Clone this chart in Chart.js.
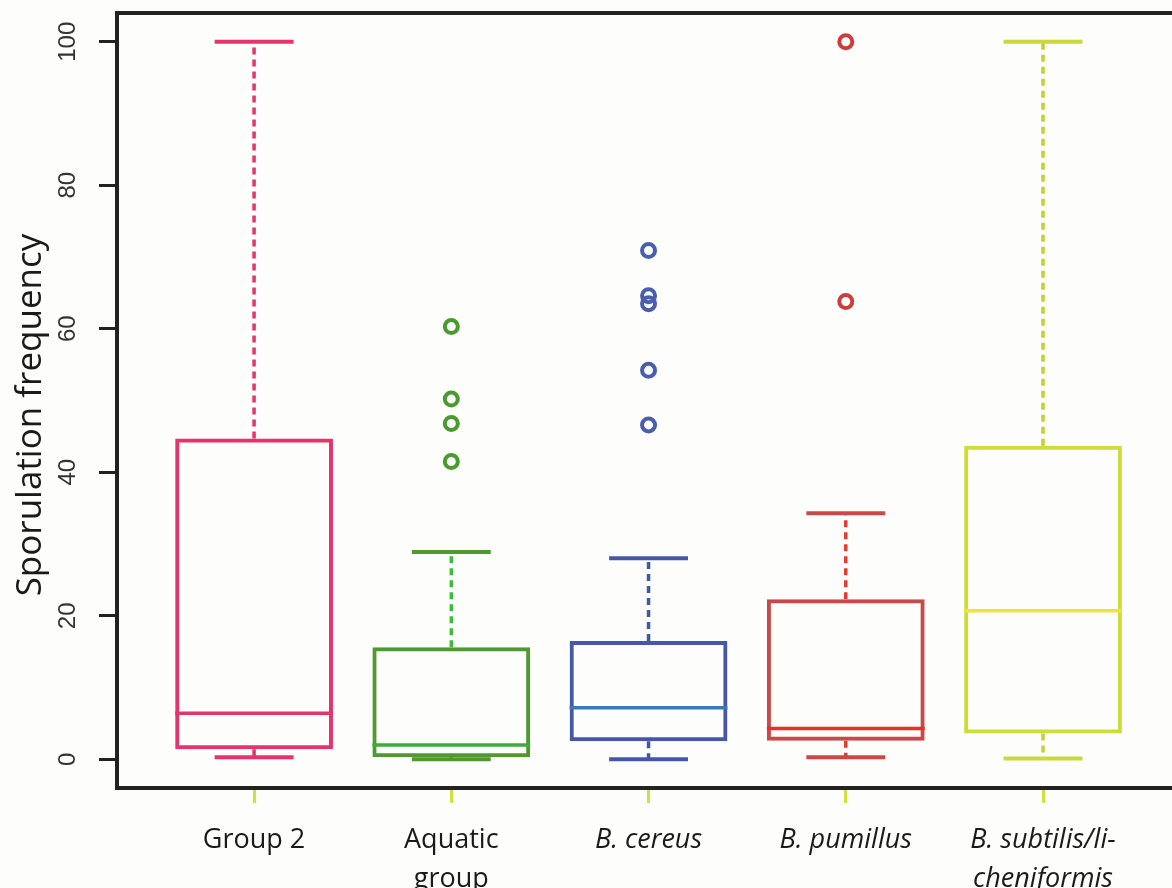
<!DOCTYPE html>
<html>
<head>
<meta charset="utf-8">
<script src="https://cdn.jsdelivr.net/npm/chart.js@4.4.1/dist/chart.umd.min.js"></script>
<style>
    html, body { margin: 0; padding: 0; background: #fdfdfb; }
    #wrap { width: 1172px; height: 888px; position: relative; }
</style>
</head>
<body>
<div id="wrap"><canvas id="chart"></canvas></div>
<script>
// --- Data ---
const categories = ['Group 2', ['Aquatic', 'group'], 'B. cereus', 'B. pumillus', ['B. subtilis/li-', 'cheniformis']];
const italicLabels = [false, false, true, true, true];
const whiskerLow = [0.3, 0, 0, 0.3, 0.1];
const q1 = [1.4, 0.3, 2.5, 2.6, 3.6];
const medians = [6.4, 2.0, 7.2, 4.3, 20.7];
const q3 = [44.7, 15.6, 16.5, 22.3, 43.7];
const whiskerHigh = [100, 28.9, 28.0, 34.3, 100];
const outliers = [[], [41.5, 46.8, 50.2, 60.3], [46.6, 54.2, 63.5, 64.6, 70.9], [63.8, 100], []];
const yTicks = [0, 20, 40, 60, 80, 100];
const yTitle = 'Sporulation frequency';

// --- Colours ---
const boxColors = ['#e6336c', '#4f9a2f', '#4657a7', '#c9494a', '#cddc3a'];
const medianColors = ['#e6336c', '#3aae3a', '#3b78b5', '#e8302a', '#f3e23a'];
const whiskerColors = ['#e6336c', '#3dbb3d', '#3f5aa0', '#e53b2e', '#c4cf30'];
const capColors = ['#e6336c', '#4f9a2f', '#4657a7', '#c94848', '#cbd93a'];
const outlierColors = ['#e6336c', '#4b9a30', '#4a5eb0', '#cc3d3d', '#cbd93a'];

// --- Build datasets from the arrays ---
const boxData = categories.map((c, i) => ({ x: i + 1, y: [q1[i], q3[i]] }));

const whiskerData = [];
const capData = [];
const medianData = [];
categories.forEach((c, i) => {
    const x = i + 1;
    whiskerData.push({ x, y: q3[i] }, { x, y: whiskerHigh[i] }, { x, y: null },
                     { x, y: q1[i] }, { x, y: whiskerLow[i] }, { x, y: null });
    capData.push({ x: x - 0.2, y: whiskerHigh[i] }, { x: x + 0.2, y: whiskerHigh[i] }, { x, y: null },
                 { x: x - 0.2, y: whiskerLow[i] }, { x: x + 0.2, y: whiskerLow[i] }, { x, y: null });
    medianData.push({ x: x - 0.4, y: medians[i] }, { x: x + 0.4, y: medians[i] }, { x, y: null });
});

const outlierData = [];
const outlierPointColors = [];
outliers.forEach((vals, i) => {
    vals.forEach(v => {
        outlierData.push({ x: i + 1, y: v });
        outlierPointColors.push(outlierColors[i]);
    });
});

// rotated y-axis title, placed beside the axis
const yTitlePlugin = {
    id: 'yTitle',
    afterDraw(chart) {
        const ctx = chart.ctx;
        ctx.save();
        ctx.translate(31, 415);
        ctx.rotate(-Math.PI / 2);
        ctx.font = '35px "Open Sans"';
        ctx.fillStyle = '#1a1a1a';
        ctx.textAlign = 'center';
        ctx.textBaseline = 'middle';
        ctx.fillText(yTitle, 0, 0);
        ctx.restore();
    }
};

new Chart(document.getElementById('chart'), {
    type: 'bar',
    data: {
        datasets: [
            {
                type: 'bar',
                data: boxData,
                backgroundColor: 'rgba(0,0,0,0)',
                borderColor: boxColors,
                borderWidth: 4,
                borderSkipped: false,
                categoryPercentage: 0.8,
                barPercentage: 1,
                order: 3
            },
            {
                type: 'line',
                data: whiskerData,
                borderWidth: 3.5,
                borderDash: [7, 5],
                pointRadius: 0,
                spanGaps: false,
                segment: { borderColor: ctx => whiskerColors[Math.floor(ctx.p0DataIndex / 6)] },
                order: 4
            },
            {
                type: 'line',
                data: capData,
                borderWidth: 4,
                pointRadius: 0,
                spanGaps: false,
                segment: { borderColor: ctx => capColors[Math.floor(ctx.p0DataIndex / 6)] },
                order: 2
            },
            {
                type: 'line',
                data: medianData,
                borderWidth: 3.5,
                pointRadius: 0,
                spanGaps: false,
                segment: { borderColor: ctx => medianColors[Math.floor(ctx.p0DataIndex / 3)] },
                order: 1
            },
            {
                type: 'scatter',
                data: outlierData,
                pointRadius: 6.5,
                pointBorderWidth: 4,
                pointBackgroundColor: 'rgba(0,0,0,0)',
                pointBorderColor: outlierPointColors,
                order: 0
            }
        ]
    },
    options: {
        responsive: true,
        maintainAspectRatio: false,
        animation: false,
        layout: { padding: 0, autoPadding: false },
        plugins: {
            legend: { display: false },
            tooltip: { enabled: false }
        },
        scales: {
            x: {
                type: 'linear',
                position: 'bottom',
                offset: false,
                min: 0.305,
                max: 5.654,
                afterBuildTicks: scale => { scale.ticks = categories.map((c, i) => ({ value: i + 1 })); },
                afterFit: scale => { scale.height = 100; },
                border: { color: '#222', width: 4 },
                grid: {
                    offset: false,
                    drawOnChartArea: false,
                    drawTicks: true,
                    tickLength: 15,
                    tickColor: '#d2e03a',
                    tickWidth: 3
                },
                ticks: {
                    autoSkip: false,
                    maxRotation: 0,
                    padding: 18,
                    color: '#1a1a1a',
                    font: ctx => ({
                        family: '"Open Sans"',
                        size: 27,
                        lineHeight: 1.45,
                        style: italicLabels[ctx.index] ? 'italic' : 'normal'
                    }),
                    callback: value => categories[value - 1]
                }
            },
            xTop: {
                type: 'linear',
                position: 'top',
                offset: false,
                min: 0.305,
                max: 5.654,
                afterFit: scale => { scale.height = 13; },
                border: { color: '#222', width: 4 },
                grid: { display: false },
                ticks: { display: false }
            },
            y: {
                min: -4,
                max: 104,
                afterBuildTicks: scale => { scale.ticks = yTicks.map(v => ({ value: v })); },
                afterFit: scale => {
                    scale.width = 117;
                    // rotated labels do not need the default vertical label padding
                    scale.paddingTop = 0;
                    scale.paddingBottom = 0;
                },
                border: { color: '#222', width: 4 },
                grid: {
                    drawOnChartArea: false,
                    drawTicks: true,
                    tickLength: 18,
                    tickColor: '#222',
                    tickWidth: 3
                },
                ticks: {
                    minRotation: 90,
                    maxRotation: 90,
                    crossAlign: 'center',
                    padding: 11,
                    color: '#333',
                    font: { family: '"Liberation Sans"', size: 24 },
                    callback: value => String(value)
                }
            }
        }
    },
    plugins: [yTitlePlugin]
});
</script>
</body>
</html>
